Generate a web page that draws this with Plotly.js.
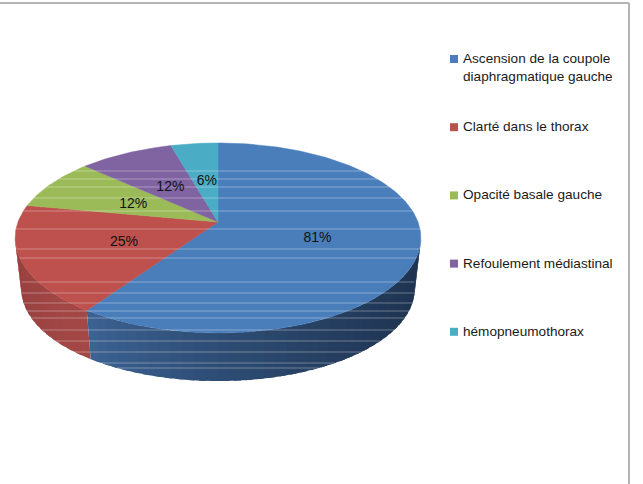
<!DOCTYPE html>
<html><head><meta charset="utf-8">
<script src="https://cdn.plot.ly/plotly-3.0.1.min.js"></script>
<style>html,body{margin:0;padding:0;background:#fff}#c{width:643px;height:484px}</style></head>
<body><div id="c"></div>
<script>
var categories = ["Ascension de la coupole<br>diaphragmatique gauche","Clarté dans le thorax","Opacité basale gauche","Refoulement médiastinal","hémopneumothorax"];
var values = [81,25,12,12,6];
var valueLabels = ["81%","25%","12%","12%","6%"];
var colors = ["#4A7EBB","#BE504D","#9BBB59","#8064A2","#4BACC6"];

// projection of the tilted disc onto the hidden pixel-scaled axes
var CX=218, CY=222, RX=200, RY=92.3, P=0.168, MIDY=238, DROP=51, SHRINK=0.97;
function face(theta,r){
  var u=r*Math.sin(theta), v=-r*Math.cos(theta), den=1-P*v;
  return [CX+RX*u/den, CY+RY*v/den];
}
function low(theta){
  var p=face(theta,1);
  return [CX+SHRINK*(p[0]-CX), MIDY+DROP+SHRINK*(p[1]-MIDY)];
}
var total=values.reduce(function(a,b){return a+b;},0);
var rad=Math.PI/180, angles=[0];
values.forEach(function(v,i){angles.push(angles[i]+v/total*2*Math.PI);});

var traces=[];
function poly(xs,ys,color,w){
  traces.push({type:"scatter",mode:"lines",x:xs,y:ys,fill:"toself",fillcolor:color,
    line:{color:color,width:w},hoverinfo:"skip",showlegend:false});
}
function mix(a,b,t){
  return "rgb("+[0,1,2].map(function(i){return Math.round(a[i]+(b[i]-a[i])*t);}).join(",")+")";
}
// side wall: front arc only; each band is drawn wider than its step so no seams show
function side(a0,a1,n,c0,c1,g){
  for(var i=0;i<n;i++){
    var t0=a0+(a1-a0)*i/n, t1=a0+(a1-a0)*(i===n-1?i+1:i+1.6)/n;
    var A=face(t0,1),B=face(t1,1),C=low(t1),D=low(t0);
    poly([A[0],B[0],C[0],D[0],A[0]],[A[1],B[1],C[1],D[1],A[1]],mix(c0,c1,Math.pow(i/(n-1),g)),0);
  }
}
side(angles[1],260*rad,14,[163,72,70],[150,64,62],1);
side(100*rad,angles[1],40,[30,51,80],[60,98,146],1.7);

// top face
values.forEach(function(v,i){
  var xs=[CX],ys=[CY],n=Math.max(6,Math.round((angles[i+1]-angles[i])/rad));
  for(var k=0;k<=n;k++){
    var p=face(angles[i]+(angles[i+1]-angles[i])*k/n,1);
    xs.push(p[0]);ys.push(p[1]);
  }
  xs.push(CX);ys.push(CY);
  poly(xs,ys,colors[i],0.5);
});

// pale scan streaks crossing the disc in the source image
var streakRows=[171,179,187,198,211,229,249,258,282,293,303,311,318,330,341,352,363,368];
var outline=[];
for(var d=0;d<360;d+=1){outline.push(face(d*rad,1));}
var lowOutline=[];
for(d=0;d<360;d+=1){lowOutline.push(low(d*rad));}
var sx=[],sy=[];
streakRows.forEach(function(y){
  var lo=1e9,hi=-1e9;
  [outline,lowOutline].forEach(function(o){
    o.forEach(function(p,i){
      var q=o[(i+1)%o.length];
      if((p[1]-y)*(q[1]-y)<=0&&p[1]!==q[1]){
        var x=p[0]+(q[0]-p[0])*(y-p[1])/(q[1]-p[1]);
        lo=Math.min(lo,x);hi=Math.max(hi,x);
      }
    });
  });
  sx.push(lo,hi,null);sy.push(y,y,null);
});
traces.push({type:"scatter",mode:"lines",x:sx,y:sy,line:{color:"rgba(255,255,255,0.33)",width:1.2},hoverinfo:"skip",showlegend:false});

// value labels at half radius on each slice
var lx=[],ly=[];
values.forEach(function(v,i){var p=face((angles[i]+angles[i+1])/2,0.5);lx.push(p[0]+1.5);ly.push(p[1]+2);});
traces.push({type:"scatter",mode:"text",x:lx,y:ly,text:valueLabels,textposition:"middle center",
  textfont:{family:"Liberation Sans, Arial, sans-serif",size:14,color:"#111"},hoverinfo:"skip",showlegend:false});

// legend
var LEGX=454, LEGY=59, LEGSTEP=68.2;
traces.push({type:"scatter",mode:"markers",
  x:categories.map(function(){return LEGX;}),
  y:categories.map(function(c,i){return LEGY+i*LEGSTEP;}),
  marker:{symbol:"square",size:8,color:colors},hoverinfo:"skip",showlegend:false});
var annotations=categories.map(function(c,i){
  return {xref:"x",yref:"y",x:LEGX+8,y:LEGY+i*LEGSTEP-9,xanchor:"left",yanchor:"top",align:"left",
    showarrow:false,text:c,font:{family:"Liberation Sans, Arial, sans-serif",size:13.6,color:"#1a1a1a"},borderpad:0};
});

Plotly.newPlot("c",traces,{
  width:643,height:484,margin:{l:0,r:0,t:0,b:0},
  paper_bgcolor:"#fff",plot_bgcolor:"#fff",showlegend:false,
  xaxis:{range:[0,643],visible:false,fixedrange:true},
  yaxis:{range:[484,0],visible:false,fixedrange:true},
  annotations:annotations,
  shapes:[
    {type:"line",xref:"x",yref:"y",x0:0,x1:629,y0:3,y1:3,line:{color:"#b4b4b4",width:2}},
    {type:"line",xref:"x",yref:"y",x0:629,x1:629,y0:3,y1:484,line:{color:"#b4b4b4",width:2}}
  ]
},{staticPlot:true,displayModeBar:false});
</script></body></html>
